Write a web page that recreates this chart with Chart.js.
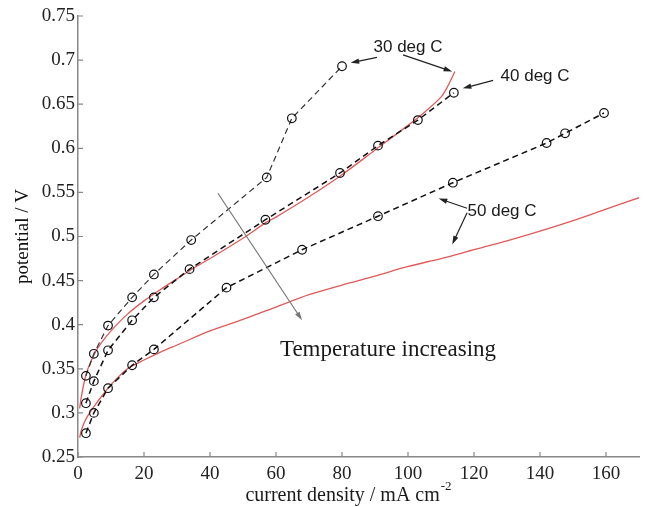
<!DOCTYPE html>
<html>
<head>
<meta charset="utf-8">
<script src="https://cdn.jsdelivr.net/npm/chart.js@4/dist/chart.umd.min.js"></script>
<style>
  body { margin: 0; background: #fff; }
</style>
</head>
<body>
<canvas id="chart" width="645" height="507"></canvas>
<script>
// measured points (current density in mA/cm2, potential in V)
const x30 = [2.4, 4.8, 9.1, 16.4, 23, 34.3, 57.2, 64.8, 80];
const y30 = [0.342, 0.367, 0.399, 0.431, 0.457, 0.496, 0.567, 0.634, 0.693];

const x40 = [2.4, 4.8, 9.1, 16.4, 23, 33.8, 56.8, 79.4, 90.9, 103, 113.9];
const y40 = [0.311, 0.336, 0.371, 0.405, 0.431, 0.463, 0.519, 0.572, 0.603, 0.632, 0.663];

const x50 = [2.4, 4.8, 9.1, 16.4, 23, 45, 67.9, 90.9, 113.6, 142, 147.6, 159.4];
const y50 = [0.277, 0.300, 0.328, 0.354, 0.372, 0.442, 0.485, 0.523, 0.561, 0.606, 0.617, 0.640];

// model curves (red)
const xFitA = [0.5, 1, 2, 3, 5, 7, 10, 15, 20, 25, 30, 35, 40, 50, 57, 60, 70, 80, 90, 100, 105, 110, 112, 114.2];
const yFitA = [0.305, 0.318, 0.337, 0.350, 0.367, 0.379, 0.393, 0.412, 0.427, 0.440, 0.452, 0.464, 0.475, 0.498, 0.516, 0.522, 0.545, 0.570, 0.598, 0.626, 0.641, 0.658, 0.670, 0.687];

const xFitB = [0.5, 1, 2, 3, 5, 7, 10, 15, 20, 25, 30, 40, 50, 60, 70, 80, 90, 100, 110, 120, 130, 140, 150, 160, 170];
const yFitB = [0.272, 0.280, 0.290, 0.297, 0.308, 0.318, 0.332, 0.350, 0.360, 0.369, 0.377, 0.393, 0.406, 0.420, 0.434, 0.445, 0.455, 0.466, 0.475, 0.485, 0.495, 0.506, 0.518, 0.531, 0.544];

const xTicks = [0, 20, 40, 60, 80, 100, 120, 140, 160];
const yTicks = [0.25, 0.3, 0.35, 0.4, 0.45, 0.5, 0.55, 0.6, 0.65, 0.7, 0.75];

// annotation labels and arrows, in data units
const labels = [
  { text: '30 deg C', x: 100, y: 0.715, font: '17px "Liberation Sans"', align: 'center' },
  { text: '40 deg C', x: 138.5, y: 0.682, font: '17px "Liberation Sans"', align: 'center' },
  { text: '50 deg C', x: 128.5, y: 0.529, font: '17px "Liberation Sans"', align: 'center' },
  { text: 'Temperature increasing', x: 61.2, y: 0.371, font: '23px "Liberation Serif"', align: 'left' }
];
const arrows = [
  [90.6, 0.703, 82.6, 0.697, '#222'],
  [98.5, 0.706, 113.4, 0.687, '#222'],
  [125.8, 0.677, 116.6, 0.668, '#222'],
  [117.9, 0.532, 109.3, 0.543, '#222'],
  [117.9, 0.527, 113.4, 0.491, '#222'],
  [42.4, 0.549, 67.9, 0.405, '#777']
];

function pts(xs, ys) {
  return xs.map((x, i) => ({ x: x, y: ys[i] }));
}

const decor = {
  id: 'decor',
  afterDatasetsDraw(chart) {
    const ctx = chart.ctx;
    const sx = chart.scales.x, sy = chart.scales.y;
    const area = chart.chartArea;
    ctx.save();

    // inward tick marks
    ctx.strokeStyle = '#888';
    ctx.lineWidth = 1.2;
    ctx.beginPath();
    xTicks.forEach(v => {
      const p = sx.getPixelForValue(v);
      ctx.moveTo(p, area.bottom);
      ctx.lineTo(p, area.bottom - 5);
    });
    yTicks.forEach(v => {
      const p = sy.getPixelForValue(v);
      ctx.moveTo(area.left, p);
      ctx.lineTo(area.left + 5, p);
    });
    ctx.stroke();

    // arrows
    arrows.forEach(a => {
      const x1 = sx.getPixelForValue(a[0]), y1 = sy.getPixelForValue(a[1]);
      const x2 = sx.getPixelForValue(a[2]), y2 = sy.getPixelForValue(a[3]);
      const ang = Math.atan2(y2 - y1, x2 - x1);
      ctx.strokeStyle = a[4];
      ctx.fillStyle = a[4];
      ctx.lineWidth = 1.2;
      ctx.beginPath();
      ctx.moveTo(x1, y1);
      ctx.lineTo(x2 - 6 * Math.cos(ang), y2 - 6 * Math.sin(ang));
      ctx.stroke();
      ctx.beginPath();
      ctx.moveTo(x2, y2);
      ctx.lineTo(x2 - 9 * Math.cos(ang - 0.3), y2 - 9 * Math.sin(ang - 0.3));
      ctx.lineTo(x2 - 9 * Math.cos(ang + 0.3), y2 - 9 * Math.sin(ang + 0.3));
      ctx.closePath();
      ctx.fill();
    });

    // text labels
    ctx.fillStyle = '#1a1a1a';
    ctx.textBaseline = 'middle';
    labels.forEach(l => {
      ctx.font = l.font;
      ctx.textAlign = l.align;
      ctx.fillText(l.text, sx.getPixelForValue(l.x), sy.getPixelForValue(l.y));
    });

    // x axis title with superscript
    ctx.textBaseline = 'alphabetic';
    ctx.textAlign = 'left';
    ctx.font = '20px "Liberation Serif"';
    const main = 'current density / mA cm';
    const w = ctx.measureText(main).width;
    ctx.font = '13px "Liberation Serif"';
    const ws = ctx.measureText('-2').width;
    const x0 = 348 - (w + ws) / 2;
    ctx.font = '20px "Liberation Serif"';
    ctx.fillText(main, x0, 501);
    ctx.font = '13px "Liberation Serif"';
    ctx.fillText('-2', x0 + w + 1, 490);
    ctx.restore();
  }
};

const dashed = {
  borderColor: '#111',
  borderWidth: 1.5,
  borderDash: [6, 4],
  pointRadius: 4.3,
  pointBorderWidth: 1.2,
  pointBorderColor: '#111',
  pointBackgroundColor: 'rgba(0,0,0,0)',
  showLine: true,
  tension: 0
};
const red = {
  borderColor: '#e05a5a',
  borderWidth: 1.3,
  pointRadius: 0,
  showLine: true,
  tension: 0.3
};

new Chart(document.getElementById('chart'), {
  type: 'scatter',
  data: {
    datasets: [
      Object.assign({ label: '30 deg C', data: pts(x30, y30) }, dashed, { borderWidth: 1.2, borderColor: '#333' }),
      Object.assign({ label: '40 deg C', data: pts(x40, y40) }, dashed),
      Object.assign({ label: '50 deg C', data: pts(x50, y50) }, dashed),
      Object.assign({ label: 'model A', data: pts(xFitA, yFitA) }, red),
      Object.assign({ label: 'model B', data: pts(xFitB, yFitB) }, red)
    ]
  },
  options: {
    responsive: false,
    animation: false,
    layout: { padding: { left: 0, top: 16, right: 6, bottom: 0 } },
    plugins: { legend: { display: false }, tooltip: { enabled: false } },
    scales: {
      x: {
        type: 'linear',
        min: 0,
        max: 170,
        afterBuildTicks: s => { s.ticks = xTicks.map(v => ({ value: v })); },
        afterFit: s => { s.height = 50; },
        grid: { display: false, drawTicks: false },
        border: { display: true, color: '#888', width: 1.5 },
        ticks: {
          padding: 6,
          color: '#222',
          maxRotation: 0,
          font: { family: 'Liberation Serif', size: 19 }
        }
      },
      y: {
        type: 'linear',
        min: 0.25,
        max: 0.75,
        afterBuildTicks: s => { s.ticks = yTicks.map(v => ({ value: v })); },
        afterFit: s => { s.width = 78; },
        grid: { display: false, drawTicks: false },
        border: { display: true, color: '#888', width: 1.5 },
        ticks: {
          padding: 3,
          color: '#222',
          font: { family: 'Liberation Serif', size: 19 },
          callback: v => String(+v.toFixed(2))
        },
        title: {
          display: true,
          text: 'potential / V',
          color: '#111',
          padding: { top: 12, bottom: 0 },
          font: { family: 'Liberation Serif', size: 19 }
        }
      }
    }
  },
  plugins: [decor]
});
</script>
</body>
</html>
